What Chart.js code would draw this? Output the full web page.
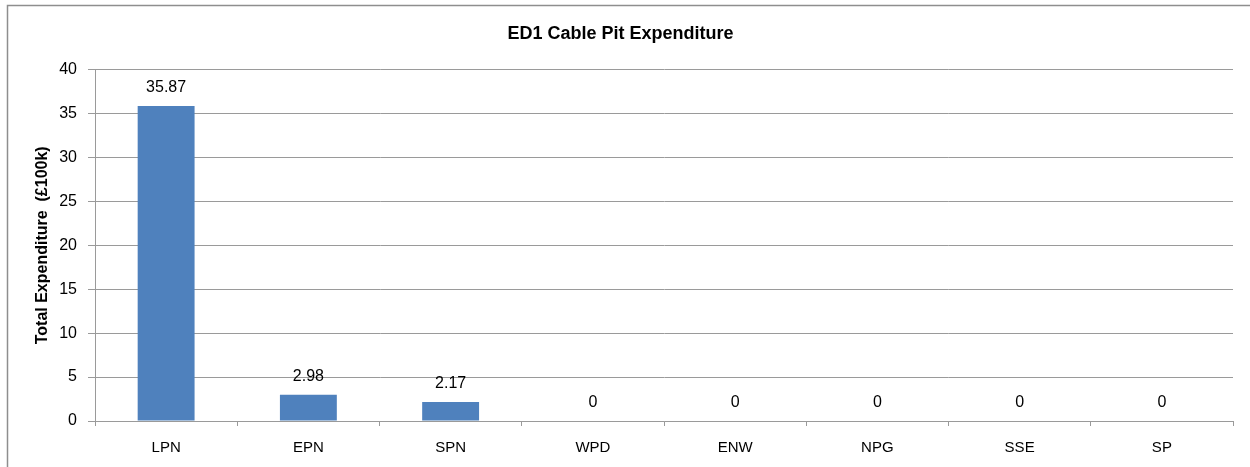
<!DOCTYPE html>
<html lang="en">
<head>
    <meta charset="UTF-8">
    <title>ED1 Cable Pit Expenditure</title>
    <script src="https://cdn.jsdelivr.net/npm/chart.js"></script>
    <style>
        html, body { margin: 0; padding: 0; background: #fff; overflow: hidden; }
        #wrap { position: relative; width: 1250px; height: 467px; }
    </style>
</head>
<body>
    <div id="wrap"><canvas id="pitChart"></canvas></div>

    <script>
        // Values
        const companies = ['LPN', 'EPN', 'SPN', 'WPD', 'ENW', 'NPG', 'SSE', 'SP'];
        const expenditure = [35.87, 2.98, 2.17, 0, 0, 0, 0, 0];
        const yTicks = [0, 5, 10, 15, 20, 25, 30, 35, 40];

        const gridGrey = '#9a9a9a';
        const fontFamily = '"Liberation Sans", Arial, sans-serif';

        // Outer frame, like the Excel chart border
        const framePlugin = {
            id: 'frame',
            beforeDraw(chart) {
                const ctx = chart.ctx;
                ctx.save();
                ctx.fillStyle = '#ffffff';
                ctx.fillRect(0, 0, chart.width, chart.height);
                ctx.strokeStyle = '#8e8e8e';
                ctx.lineWidth = 1.5;
                ctx.strokeRect(7.5, 5.5, chart.width + 20, chart.height + 20);
                ctx.restore();
            }
        };

        // Value labels above each bar
        const valueLabels = {
            id: 'valueLabels',
            afterDatasetsDraw(chart) {
                const ctx = chart.ctx;
                const meta = chart.getDatasetMeta(0);
                ctx.save();
                ctx.font = '16px ' + fontFamily;
                ctx.fillStyle = '#000';
                ctx.textAlign = 'center';
                ctx.textBaseline = 'middle';
                meta.data.forEach((bar, i) => {
                    ctx.fillText(String(expenditure[i]), bar.x, bar.y - 18);
                });
                ctx.restore();
            }
        };

        const config = {
            type: 'bar',
            data: {
                labels: companies,
                datasets: [{
                    label: 'Total Expenditure (£100k)',
                    data: expenditure,
                    backgroundColor: '#4f81bd',
                    borderWidth: 0,
                    barPercentage: 0.4,
                    categoryPercentage: 1
                }]
            },
            options: {
                responsive: false,
                animation: false,
                layout: { padding: { left: 8, right: 17, top: 0, bottom: 0 } },
                plugins: {
                    legend: { display: false },
                    tooltip: { enabled: false },
                    title: {
                        display: true,
                        text: 'ED1 Cable Pit Expenditure',
                        color: '#000',
                        font: { family: fontFamily, size: 18, weight: 'bold' },
                        padding: { top: 23, bottom: 25 }
                    }
                },
                scales: {
                    x: {
                        afterFit(axis) { axis.height = 46; },
                        grid: {
                            display: true,
                            offset: true,
                            drawOnChartArea: false,
                            drawTicks: true,
                            tickLength: 5,
                            color: gridGrey
                        },
                        border: { color: gridGrey, width: 1 },
                        ticks: {
                            color: '#000',
                            padding: 13,
                            font: { family: fontFamily, size: 15 }
                        }
                    },
                    y: {
                        min: 0,
                        max: 40,
                        afterFit(axis) { axis.width = 87; },
                        afterBuildTicks(axis) {
                            axis.ticks = yTicks.map(v => ({ value: v }));
                        },
                        grid: {
                            color: gridGrey,
                            tickLength: 7
                        },
                        border: { color: gridGrey, width: 1 },
                        ticks: {
                            color: '#000',
                            padding: 11,
                            font: { family: fontFamily, size: 16 }
                        },
                        title: {
                            display: true,
                            text: 'Total Expenditure  (£100k)',
                            color: '#000',
                            font: { family: fontFamily, size: 16, weight: 'bold' },
                            padding: { top: 25, bottom: 0 }
                        }
                    }
                }
            },
            plugins: [framePlugin, valueLabels]
        };

        const canvas = document.getElementById('pitChart');
        canvas.width = 1250;
        canvas.height = 467;
        new Chart(canvas, config);
    </script>
</body>
</html>
